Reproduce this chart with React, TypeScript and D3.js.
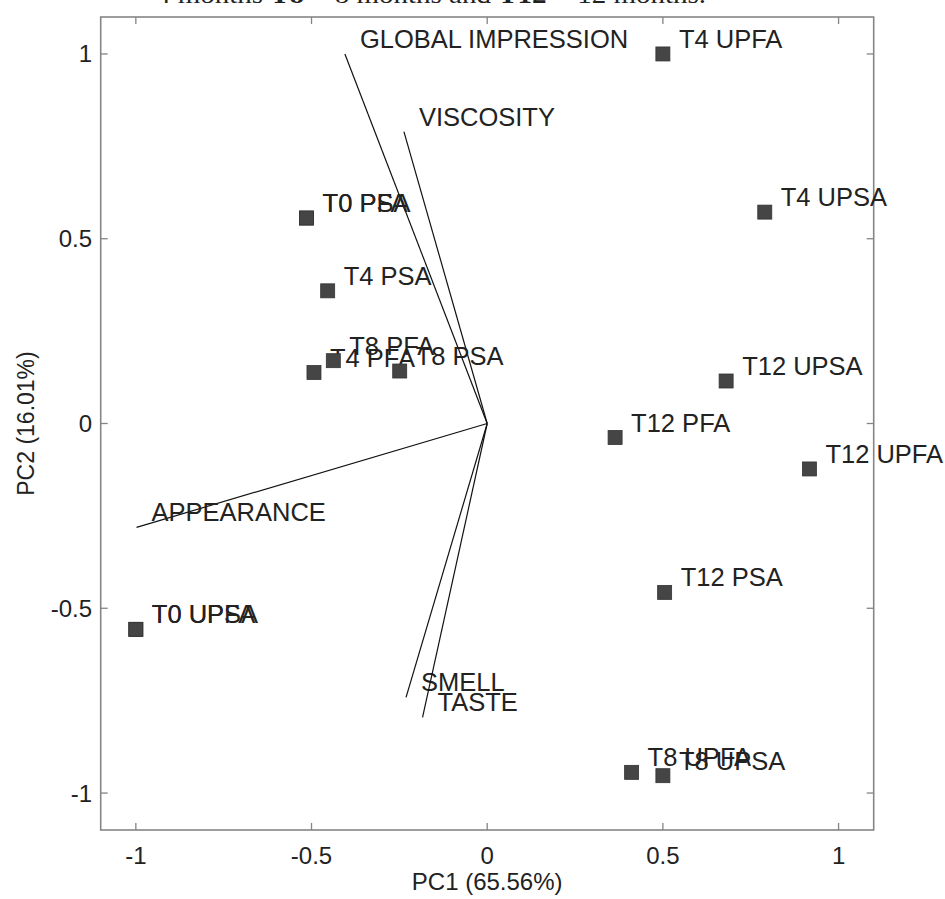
import React from "react";
import * as d3 from "d3";

const width = 945;
const height = 899;
const plot = { left: 100.7, right: 873.7, top: 17, bottom: 830 };

// sample scores (T0 pasteurised / unpasteurised pairs coincide)
const sampleNames = [
  "T0 PFA", "T0 PSA", "T0 UPFA", "T0 UPSA", "T4 PSA", "T4 PFA", "T8 PFA", "T8 PSA",
  "T4 UPFA", "T4 UPSA", "T12 UPSA", "T12 PFA", "T12 UPFA", "T12 PSA",
  "T8 UPFA", "T8 UPSA",
];
const pc1Scores = [
  -0.514, -0.514, -1.0, -1.0, -0.454, -0.493, -0.438, -0.249,
  0.5, 0.79, 0.68, 0.364, 0.917, 0.505,
  0.411, 0.5,
];
const pc2Scores = [
  0.556, 0.556, -0.557, -0.557, 0.359, 0.138, 0.17, 0.142,
  1.0, 0.572, 0.115, -0.038, -0.123, -0.457,
  -0.944, -0.953,
];

// variable loadings
const variableNames = ["GLOBAL IMPRESSION", "VISCOSITY", "APPEARANCE", "SMELL", "TASTE"];
const pc1Loadings = [-0.405, -0.237, -0.998, -0.231, -0.184];
const pc2Loadings = [1.0, 0.79, -0.281, -0.741, -0.795];

const tickValues = [-1, -0.5, 0, 0.5, 1];
const xTitle = "PC1 (65.56%)";
const yTitle = "PC2 (16.01%)";

const font = "'Liberation Sans', Arial, sans-serif";

export default function App() {
  const x = d3.scaleLinear().domain([-1.1, 1.1]).range([plot.left, plot.right]);
  const y = d3.scaleLinear().domain([-1.1, 1.1]).range([plot.bottom, plot.top]);
  const tickLen = 7;
  const axisColor = "#858585";

  return (
    <svg
      width={width}
      height={height}
      style={{ position: "absolute", left: 0, top: 0, background: "#fff" }}
    >
      {/* clipped caption from the page above */}
      <text
        x={156}
        y={3}
        fontFamily="'Liberation Serif', 'Times New Roman', serif"
        fontSize={26}
        fill="#222"
        textLength={550}
        lengthAdjust="spacingAndGlyphs"
      >
        4 months <tspan fontWeight="bold">T8</tspan> = 8 months and{" "}
        <tspan fontWeight="bold">T12</tspan> = 12 months.
      </text>

      {/* box */}
      <rect
        x={plot.left}
        y={plot.top}
        width={plot.right - plot.left}
        height={plot.bottom - plot.top}
        fill="none"
        stroke={axisColor}
        strokeWidth={1.6}
      />
      {tickValues.map((t) => (
        <g key={"t" + t} stroke={axisColor} strokeWidth={1.3}>
          <line x1={x(t)} x2={x(t)} y1={plot.bottom} y2={plot.bottom - tickLen} />
          <line x1={x(t)} x2={x(t)} y1={plot.top} y2={plot.top + tickLen} />
          <line x1={plot.left} x2={plot.left + tickLen} y1={y(t)} y2={y(t)} />
          <line x1={plot.right} x2={plot.right - tickLen} y1={y(t)} y2={y(t)} />
        </g>
      ))}
      <g fontFamily={font} fontSize={24} fill="#222">
        {tickValues.map((t) => (
          <text key={"xl" + t} x={x(t)} y={864} textAnchor="middle">
            {String(t)}
          </text>
        ))}
        {tickValues.map((t) => (
          <text key={"yl" + t} x={92} y={y(t) + 8.5} textAnchor="end">
            {String(t)}
          </text>
        ))}
        <text x={(plot.left + plot.right) / 2} y={890} textAnchor="middle">
          {xTitle}
        </text>
        <text
          fontSize={23}
          transform={`translate(34,${(plot.top + plot.bottom) / 2}) rotate(-90)`}
          textAnchor="middle"
        >
          {yTitle}
        </text>
      </g>

      {/* loading vectors */}
      {variableNames.map((name, i) => (
        <g key={name}>
          <line
            x1={x(0)}
            y1={y(0)}
            x2={x(pc1Loadings[i])}
            y2={y(pc2Loadings[i])}
            stroke="#111"
            strokeWidth={1.2}
          />
          <text
            x={x(pc1Loadings[i]) + 15}
            y={y(pc2Loadings[i]) - 6}
            fontFamily={font}
            fontSize={25.5}
            fill="#222"
          >
            {name}
          </text>
        </g>
      ))}

      {/* sample scores */}
      {sampleNames.map((name, i) => (
        <g key={name}>
          <rect
            x={x(pc1Scores[i]) - 7}
            y={y(pc2Scores[i]) - 7}
            width={14}
            height={14}
            fill="#454545"
            stroke="#333"
            strokeWidth={0.8}
          />
          <text
            x={x(pc1Scores[i]) + 16}
            y={y(pc2Scores[i]) - 6}
            fontFamily={font}
            fontSize={25.5}
            fill="#222"
          >
            {name}
          </text>
        </g>
      ))}
    </svg>
  );
}
